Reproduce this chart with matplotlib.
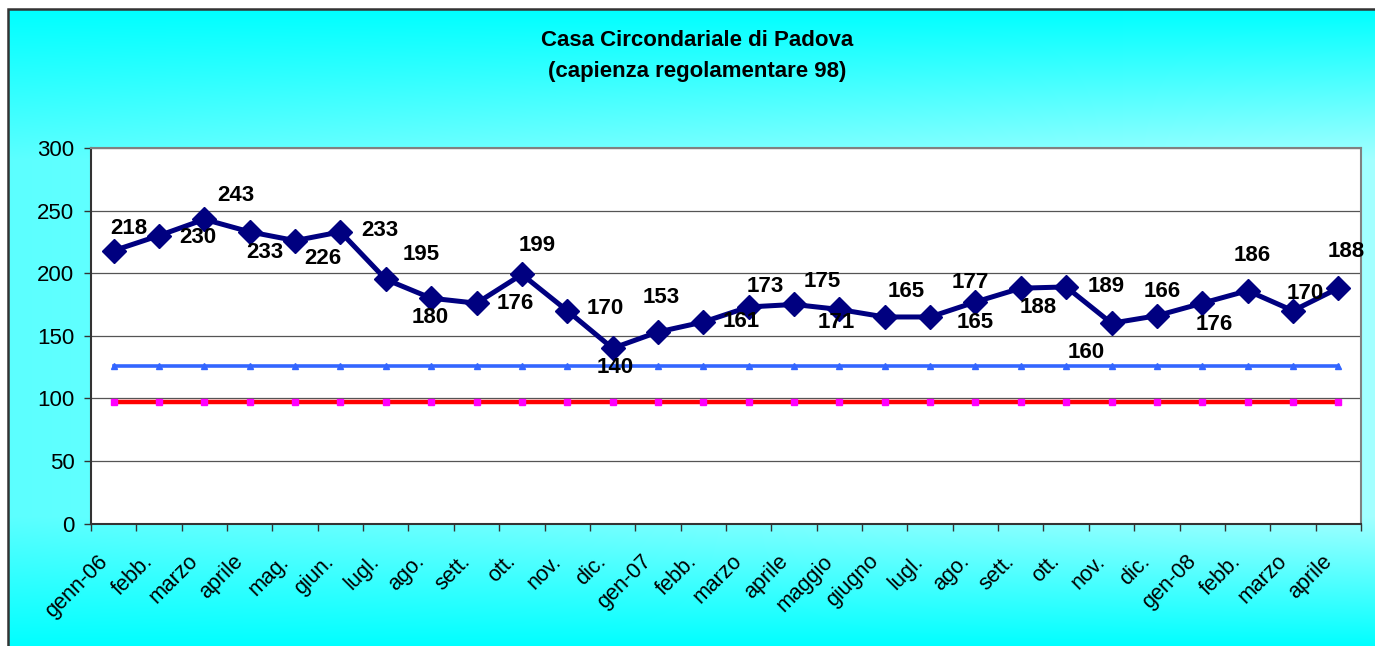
import matplotlib.pyplot as plt
import numpy as np
from matplotlib.patches import Rectangle
from matplotlib.transforms import ScaledTranslation

plt.rcParams['font.family'] = ['Liberation Sans', 'DejaVu Sans']

# data
months = ['genn-06', 'febb.', 'marzo', 'aprile', 'mag.', 'giun.', 'lugl.',
          'ago.', 'sett.', 'ott.', 'nov.', 'dic.', 'gen-07', 'febb.',
          'marzo', 'aprile', 'maggio', 'giugno', 'lugl.', 'ago.', 'sett.',
          'ott.', 'nov.', 'dic.', 'gen-08', 'febb.', 'marzo', 'aprile']
presenze = [218, 230, 243, 233, 226, 233, 195, 180, 176, 199, 170, 140,
            153, 161, 173, 175, 171, 165, 165, 177, 188, 189, 160, 166,
            176, 186, 170, 188]
tollerabile = [126] * len(months)
regolamentare = [97] * len(months)

# where excel put each data label (pixels from the point)
label_offsets = [(15, 22), (39, -2), (31, 24), (15, -21), (28, -18), (39, 1),
                 (35, 25), (-1, -19), (39, 0), (15, 29), (38, 2), (3, -19),
                 (3, 34), (38, 0), (17, 20), (28, 23), (-3, -13), (21, 25),
                 (45, -6), (-5, 19), (17, -19), (40, 0), (-25, -29), (5, 24),
                 (12, -21), (5, 35), (12, 17), (8, 37)]

W, H = 1375, 646
fig = plt.figure(figsize=(W / 100, H / 100), dpi=100)
fig.patch.set_facecolor('white')

# cyan gradient background of the chart area
bg = fig.add_axes([9 / W, 0, 1 - 9 / W, (H - 10) / H])
yy, xx = np.mgrid[0:636, 0:1366]
v = np.clip(np.minimum(yy / 150.0, (636 - yy) / 130.0), 0, 1)
h = 0.36 + 0.28 * xx / 1366.0
f = v * h
img = np.dstack([f, np.ones_like(f), np.ones_like(f)])
bg.imshow(img, aspect='auto', extent=[0, 1, 0, 1])
bg.set_axis_off()
fig.add_artist(Rectangle((8 / W, -0.1), 1.2, (H - 9) / H + 0.1,
                         transform=fig.transFigure, fill=False,
                         edgecolor='#333333', linewidth=1.8))

fig.text(697 / W, 1 - 41 / H, 'Casa Circondariale di Padova',
         ha='center', va='center', fontsize=16, fontweight='bold')
fig.text(697 / W, 1 - 71 / H, '(capienza regolamentare 98)',
         ha='center', va='center', fontsize=16, fontweight='bold')

ax = fig.add_axes([91 / W, (H - 523.5) / H, 1270 / W, 375.5 / H])
ax.set_facecolor('white')
x = np.arange(len(months))

ax.plot(x, tollerabile, color='#3366FF', linewidth=2.6, marker='^',
        markersize=4, zorder=3)
ax.plot(x, regolamentare, color='#FF0000', linewidth=3.2, marker='s',
        markersize=4, markerfacecolor='#FF00FF', markeredgecolor='#FF00FF',
        zorder=3)
ax.plot(x, presenze, color='#000080', linewidth=3.6, marker='D',
        markersize=12, zorder=4)

for i, val in enumerate(presenze):
    dx, dy = label_offsets[i]
    ax.annotate(str(val), (x[i], val), xytext=(dx, dy),
                textcoords='offset pixels', ha='center', va='center',
                fontsize=16, fontweight='bold', zorder=5)

ax.set_xlim(-0.5, len(months) - 0.5)
ax.set_ylim(0, 300)
ax.set_yticks(range(0, 301, 50))
ax.yaxis.grid(True, color='#555555', linewidth=0.9)
ax.set_axisbelow(True)
ax.tick_params(axis='y', labelsize=16, length=5, width=1, color='#333333',
               pad=7)

ax.set_xticks(np.arange(-0.5, len(months), 1), minor=False)
ax.set_xticklabels([])
ax.set_xticks(x, minor=True)
ax.set_xticklabels(months, minor=True, rotation=45, ha='right',
                   rotation_mode='anchor', fontsize=15.5)
ax.tick_params(axis='x', which='major', length=5, width=1, color='#333333')
ax.tick_params(axis='x', which='minor', length=0, pad=14)
shift = ScaledTranslation(-0.17, -0.08, fig.dpi_scale_trans)
for lab in ax.get_xticklabels(minor=True):
    lab.set_transform(lab.get_transform() + shift)

for side in ['top', 'right']:
    ax.spines[side].set_color('#808080')
    ax.spines[side].set_linewidth(1.5)
for side in ['left', 'bottom']:
    ax.spines[side].set_color('#333333')
    ax.spines[side].set_linewidth(1.5)

fig.savefig('out.png', dpi=100)
